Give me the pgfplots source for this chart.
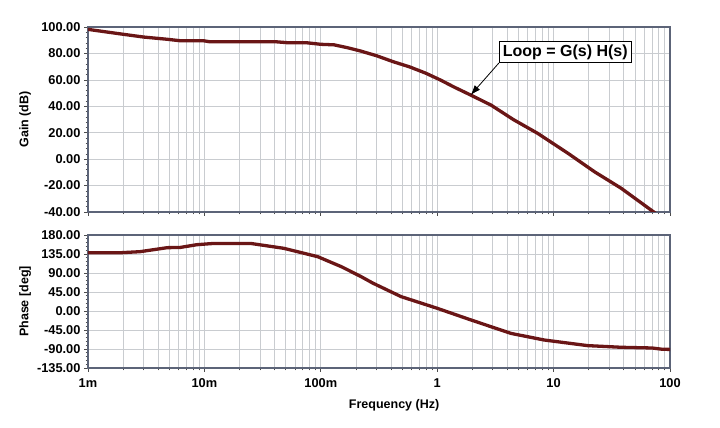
\documentclass[border=0pt]{standalone}
\usepackage{fontspec}
\setmainfont{Liberation Sans}
\usepackage{pgfplots}
\pgfplotsset{compat=1.18}
\usetikzlibrary{arrows.meta}
\definecolor{curve}{HTML}{6A1616}
\definecolor{gridc}{HTML}{C9CCD0}
\definecolor{framec}{HTML}{5C6478}
\begin{document}
\begin{tikzpicture}
\begin{axis}[scale only axis, width=582pt, height=185pt,
  at={(88pt,216pt)}, anchor=south west,
  xmode=log, xmin=0.001, xmax=100,
  xtick={0.001,0.01,0.1,1,10,100},
  grid=both,
  major grid style={gridc, line width=0.6pt},
  minor x grid style={gridc, line width=0.6pt},
  minor y grid style={draw=none},
  axis line style={framec, line width=1.2pt},
  tick align=outside, xtick pos=left, ytick pos=left,
  tick style={black!70, line width=0.6pt},
  major tick length=4pt, minor tick length=2.5pt,
  minor y tick num=4,
  tick label style={font=\bfseries\fontsize{12.8}{14}\selectfont},
  label style={font=\bfseries\fontsize{12.5}{14}\selectfont},
  yticklabel style={/pgf/number format/fixed, /pgf/number format/fixed zerofill,
    /pgf/number format/precision=2, /pgf/number format/assume math mode=true},
  ymin=-40, ymax=100, ytick={-40,-20,0,20,40,60,80,100},
  xticklabels={},
  ylabel={Gain (dB)},
  ylabel style={at={(axis description cs:-0.108,0.5)}, anchor=center}]
\addplot[curve, line width=3.3pt, line join=round, line cap=round] coordinates {
(0.001,98.2)(0.002,94.5)(0.003,92.4)(0.0048,90.7)(0.0062,89.6)(0.0098,89.6)
(0.011,88.9)(0.04,88.9)(0.052,88.1)(0.077,88)(0.1,86.9)(0.13,86.5)(0.17,84.3)
(0.22,81.8)(0.3,78.3)(0.42,73.7)(0.58,69.8)(0.8,65)(1.07,59.8)(1.4,54.5)(1.94,48.5)(2.9,40.9)
(4.5,30)(7.3,19.5)(13.3,4.4)
(22.5,-9.6)(38,-22)(72,-39.8)(78,-42)};
\node[draw=black, fill=white, line width=0.8pt, font=\bfseries\fontsize{16}{18}\selectfont,
  minimum width=132pt, minimum height=21pt, inner sep=2pt] (lbl) at (axis cs:12.6,81) {Loop = G(s) H(s)};
\draw[-{Latex[length=10pt,width=7pt]}, line width=0.8pt] (lbl.south west) -- (axis cs:1.94,48.5);
\end{axis}
\begin{axis}[scale only axis, width=582pt, height=133pt,
  at={(88pt,60pt)}, anchor=south west,
  xmode=log, xmin=0.001, xmax=100,
  xtick={0.001,0.01,0.1,1,10,100},
  grid=both,
  major grid style={gridc, line width=0.6pt},
  minor x grid style={gridc, line width=0.6pt},
  minor y grid style={draw=none},
  axis line style={framec, line width=1.2pt},
  tick align=outside, xtick pos=left, ytick pos=left,
  tick style={black!70, line width=0.6pt},
  major tick length=4pt, minor tick length=2.5pt,
  minor y tick num=4,
  tick label style={font=\bfseries\fontsize{12.8}{14}\selectfont},
  label style={font=\bfseries\fontsize{12.5}{14}\selectfont},
  yticklabel style={/pgf/number format/fixed, /pgf/number format/fixed zerofill,
    /pgf/number format/precision=2, /pgf/number format/assume math mode=true},
  ymin=-135, ymax=180, ytick={-135,-90,-45,0,45,90,135,180},
  xticklabels={1m,10m,100m,1,10,100},
  xticklabel style={yshift=-3pt},
  xlabel={Frequency (Hz)},
  xlabel style={at={(axis description cs:0.526,-0.278)}, anchor=center},
  ylabel={Phase [deg]},
  ylabel style={at={(axis description cs:-0.108,0.5)}, anchor=center}]
\addplot[curve, line width=3.3pt, line join=round, line cap=round] coordinates {
(0.001,138)(0.0019,138)(0.0028,140.5)(0.0048,150)(0.0062,150.5)(0.0086,157)
(0.012,160)(0.025,160)(0.048,148.5)(0.094,128.7)(0.15,105)(0.22,82)(0.28,66)(0.49,34)
(1.0,6.4)(1.94,-21)(4.3,-53)(8.3,-68.7)(19.6,-82)(38.5,-86)(70,-87.6)(85,-90.5)(100,-91)};
\end{axis}
\pgfresetboundingbox
\path[use as bounding box] (0,0) rectangle (720pt,428pt);
\end{tikzpicture}
\end{document}
